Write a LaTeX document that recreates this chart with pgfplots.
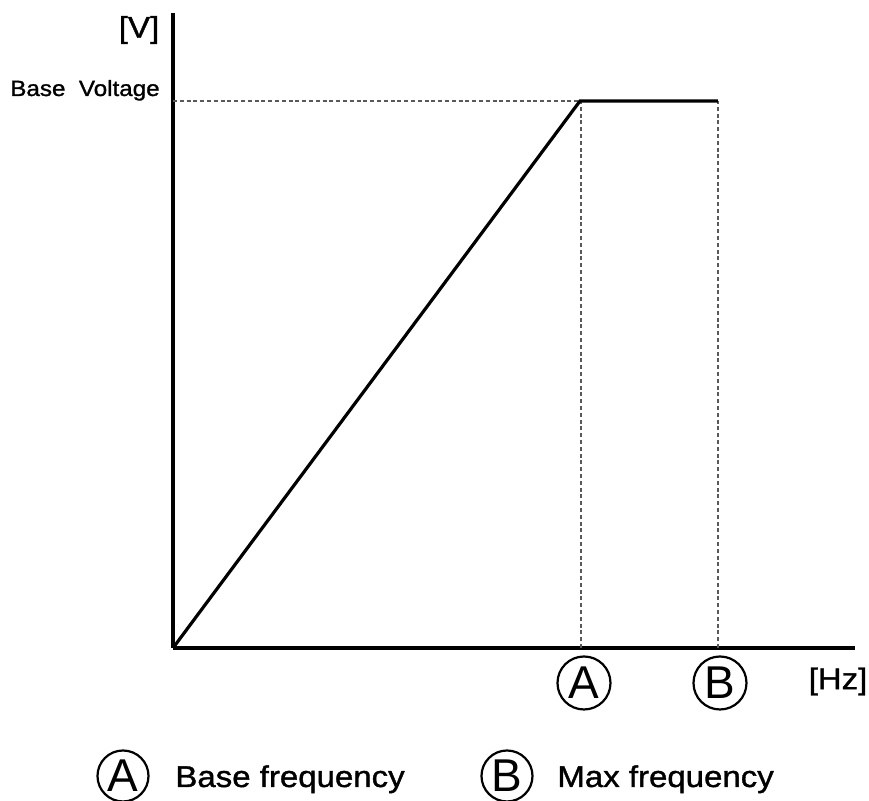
\documentclass[border=0pt]{standalone}
\usepackage{fontspec}
\setmainfont{Liberation Sans}[FakeStretch=1.1,FakeBold=1.2]
\newfontfamily\circfont{Liberation Sans}
\usepackage{pgfplots}
\pgfplotsset{compat=1.18}
\begin{document}
\begin{tikzpicture}
\path[use as bounding box] (-86.5pt,-76.5pt) rectangle (348pt,324pt);
\begin{axis}[
  at={(0,0)}, anchor=south west,
  x=0.5pt, y=0.5pt,
  xmin=0, xmax=682, ymin=0, ymax=635,
  axis x line*=bottom, axis y line*=left,
  axis line style={black, line width=1.6pt, -},
  ticks=none,
  clip=false,
]
\addplot[black!65, line width=0.9pt, dash pattern=on 2pt off 1.4pt] coordinates {(0,547) (407,547)};
\addplot[black!65, line width=0.9pt, dash pattern=on 2pt off 1.4pt] coordinates {(408,0) (408,547)};
\addplot[black!65, line width=0.9pt, dash pattern=on 2pt off 1.4pt] coordinates {(545,0) (545,547)};
\addplot[black, line width=1.6pt, line join=miter] coordinates {(0,0) (407,547) (545,547)};

\node[font=\fontsize{15}{15}\selectfont] at (axis cs:-34,618) {[V]};
\node[font=\fontsize{11}{11}\selectfont, anchor=base, inner sep=0pt] at (axis cs:-88,552) {Base\ \ Voltage};
\node[font=\fontsize{15}{15}\selectfont] at (axis cs:665,-33.5) {[Hz]};

\node[draw, circle, line width=1.1pt, minimum size=26.5pt, inner sep=0pt, font=\circfont\fontsize{23}{23}\selectfont] at (axis cs:411,-35) {A};
\node[draw, circle, line width=1.1pt, minimum size=26.5pt, inner sep=0pt, font=\circfont\fontsize{23}{23}\selectfont] at (axis cs:547,-35) {B};

\node[draw, circle, line width=1.1pt, minimum size=25.5pt, inner sep=0pt, font=\circfont\fontsize{23}{23}\selectfont] at (axis cs:-50,-128) {A};
\node[font=\fontsize{15}{15}\selectfont, anchor=base west, inner sep=0pt] at (axis cs:2,-139) {Base frequency};
\node[draw, circle, line width=1.1pt, minimum size=25.5pt, inner sep=0pt, font=\circfont\fontsize{23}{23}\selectfont] at (axis cs:334,-128) {B};
\node[font=\fontsize{15}{15}\selectfont, anchor=base west, inner sep=0pt] at (axis cs:384,-139) {Max frequency};
\end{axis}
\end{tikzpicture}
\end{document}
